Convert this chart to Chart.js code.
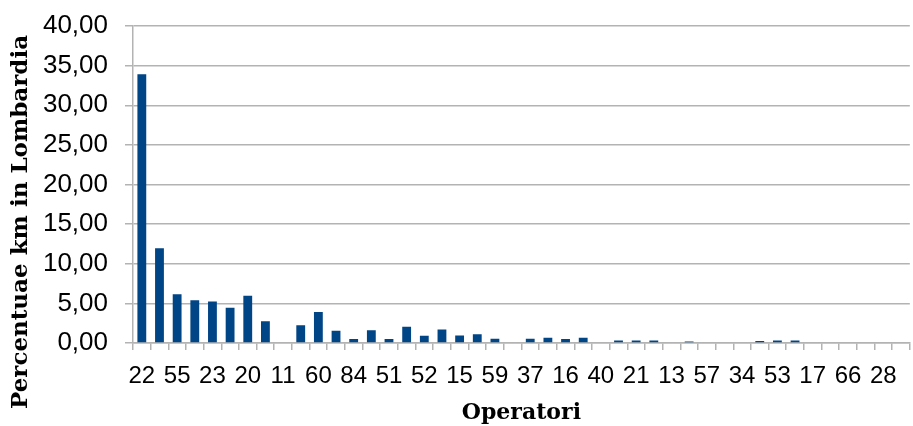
<!DOCTYPE html>
<html>
<head>
<meta charset="utf-8">
<script src="https://cdn.jsdelivr.net/npm/chart.js@4"></script>
<style>
  html, body { margin: 0; padding: 0; background: #fff; }
  #wrap { width: 913px; height: 426px; }
</style>
</head>
<body>
<div id="wrap"><canvas id="chart" width="913" height="426"></canvas></div>
<script>
// operators (only every other label is readable in the source)
const categories = [
  '22', '', '55', '', '23', '', '20', '', '11', '', '60', '',
  '84', '', '51', '', '52', '', '15', '', '59', '', '37', '',
  '16', '', '40', '', '21', '', '13', '', '57', '', '34', '',
  '53', '', '17', '', '66', '', '28', ''
];

// percentuale km in Lombardia
const percentKm = [
  33.9, 11.95, 6.15, 5.4, 5.25, 4.45, 5.95, 2.75, 0.1, 2.25, 3.9, 1.55,
  0.5, 1.6, 0.5, 2.05, 0.9, 1.7, 0.95, 1.1, 0.55, 0.1, 0.55, 0.65,
  0.5, 0.65, 0.1, 0.3, 0.3, 0.3, 0, 0.2, 0.1, 0.1, 0, 0.25,
  0.3, 0.3, 0, 0, 0, 0, 0, 0
];

const yTicks = [0, 5, 10, 15, 20, 25, 30, 35, 40];
const yTitle = 'Percentuae km in Lombardia';

// y title is drawn by hand so it can sit centred on the whole page like the original
const yTitlePlugin = {
  id: 'yTitle',
  afterDraw(chart) {
    const c = chart.ctx;
    c.save();
    c.translate(21, 222);
    c.rotate(-Math.PI / 2);
    c.font = 'bold 23px "DejaVu Serif"';
    c.fillStyle = '#000';
    c.textAlign = 'center';
    c.textBaseline = 'middle';
    c.fillText(yTitle, 0, 0);
    c.restore();
  }
};

const ctx = document.getElementById('chart').getContext('2d');
new Chart(ctx, {
  type: 'bar',
  data: {
    labels: categories,
    datasets: [{
      data: percentKm,
      backgroundColor: '#004586',
      categoryPercentage: 1.0,
      barPercentage: 0.5
    }]
  },
  options: {
    responsive: false,
    animation: false,
    layout: { padding: { top: 26, right: 1, left: 0, bottom: 0 } },
    plugins: {
      legend: { display: false },
      tooltip: { enabled: false }
    },
    scales: {
      x: {
        grid: {
          display: true,
          drawOnChartArea: false,
          drawTicks: true,
          tickLength: 7,
          color: '#b3b3b3',
          lineWidth: 1.5
        },
        border: { color: '#b3b3b3', width: 1.5 },
        ticks: {
          autoSkip: false,
          maxRotation: 0,
          minRotation: 0,
          padding: 12,
          color: '#000',
          font: { family: 'Liberation Sans, Arial', size: 24 },
          callback: (v, i) => categories[i]
        },
        title: {
          display: true,
          text: 'Operatori',
          color: '#000',
          font: { family: 'DejaVu Serif', size: 22, weight: 'bold' },
          padding: { top: 0, bottom: 0 }
        },
        afterFit: (scale) => { scale.height = 83; }
      },
      y: {
        min: 0,
        max: 40,
        afterBuildTicks: (scale) => { scale.ticks = yTicks.map(v => ({ value: v })); },
        grid: {
          color: '#b3b3b3',
          lineWidth: 1.5,
          tickLength: 8
        },
        border: { color: '#b3b3b3', width: 1.5 },
        ticks: {
          padding: 17,
          color: '#000',
          font: { family: 'Liberation Sans, Arial', size: 26 },
          callback: (v) => v.toFixed(2).replace('.', ',')
        },
        afterFit: (scale) => {
          scale.width = 133;
          scale.paddingTop = 0;
          scale.paddingBottom = 0;
        }
      }
    }
  },
  plugins: [yTitlePlugin]
});
</script>
</body>
</html>
